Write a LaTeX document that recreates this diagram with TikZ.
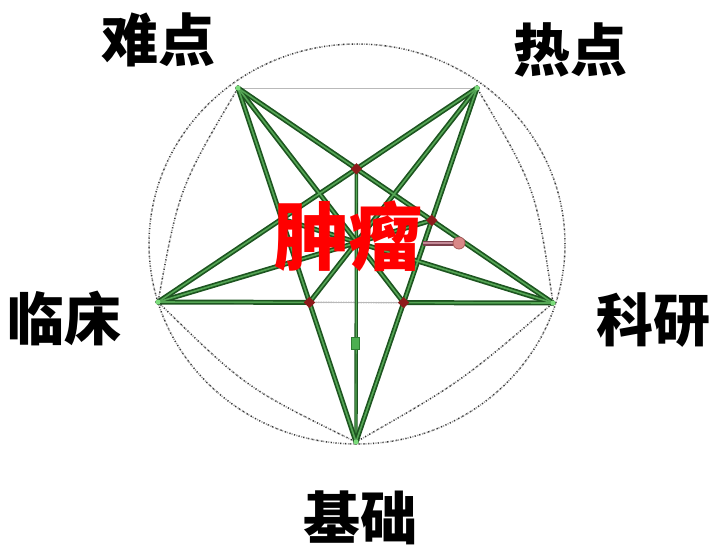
\documentclass[tikz,border=0pt]{standalone}
\usepackage{fontspec}
\newfontfamily\cjk{Noto Sans CJK SC}
\definecolor{gdark}{HTML}{1D5520}
\definecolor{glight}{HTML}{55A655}
\definecolor{gdot}{HTML}{A0A0A0}
\definecolor{mred}{HTML}{8E1A1A}
\definecolor{vpt}{HTML}{7CDC7C}
\definecolor{barout}{HTML}{7B3F4C}
\definecolor{barin}{HTML}{C48A98}
\definecolor{hcfill}{HTML}{D98888}
\definecolor{hcdraw}{HTML}{A85A5A}
\definecolor{hsfill}{HTML}{4CAF50}
\definecolor{hsdraw}{HTML}{2E7D32}
\tikzset{
  star/.style={draw=gdark,line width=5pt,line cap=round},
  starin/.style={draw=glight,line width=1.6pt,line cap=round},
  thingray/.style={draw=gray!55,line width=0.9pt},
  dotline/.style={draw=gdot,line width=1.5pt,dash pattern=on 1.2pt off 1.3pt},
  speck/.style={draw=black!80,line width=1.4pt,dash pattern=on 1pt off 3.7pt},
  lbl/.style={font=\cjk\bfseries\fontsize{57}{57}\selectfont,text=black,inner sep=0pt},
  inner/.style={fill=mred,draw=none,minimum size=8pt,inner sep=0pt,rectangle,rotate=45},
}
\begin{document}
\begin{tikzpicture}[x=1pt,y=-1pt]
\useasboundingbox[fill=white] (0,0) rectangle (710,547);
% outer vertices
\coordinate (A) at (238,88);
\coordinate (B) at (477,88);
\coordinate (C) at (553,303);
\coordinate (D) at (356,442);
\coordinate (E) at (158,302);
% inner intersection points
\coordinate (P1) at (intersection of A--C and B--E);
\coordinate (P2) at (intersection of A--C and B--D);
\coordinate (P3) at (intersection of B--D and E--C);
\coordinate (P4) at (intersection of A--D and E--C);
\coordinate (P5) at (intersection of A--D and B--E);
% dotted circle and inner arcs
\foreach \s in {dotline,speck}{
  \draw[\s] (357,244) ellipse [x radius=208pt, y radius=200pt];
  \draw[\s] (B) .. controls (536,188) .. (C);
  \draw[\s] (C) .. controls (461,382) .. (D);
  \draw[\s] (D) .. controls (246,388) .. (E);
  \draw[\s] (E) .. controls (179,188) .. (A);
}
\draw[dotline,draw=gdot!70] (P1) -- (P2) -- (P3) -- (P4) -- (P5) -- cycle;
% thin gray lines
\draw[thingray] (A) -- (B);
\draw[thingray] (P4) -- (P3);
% vertical line
\draw[draw=gdark,line width=3.4pt] (D) -- (P1);
\draw[draw=glight,line width=1.2pt] (D) -- (P1);
% star lines
\foreach \u/\v in {A/C,A/D,B/E,B/D,E/P4,P3/C,A/P3,B/P4,E/P2,C/P5}{
  \draw[star] (\u) -- (\v);
}
\foreach \u/\v in {A/C,A/D,B/E,B/D,E/P4,P3/C,A/P3,B/P4,E/P2,C/P5}{
  \draw[starin] (\u) -- (\v);
}
% vertex markers
\foreach \p in {A,B,C,D,E}{\fill[vpt] (\p) circle (2.5pt);}
\foreach \p in {P1,P2,P3,P4}{\node[inner] at (\p) {};}
% handle artifacts
\coordinate (h1) at (423,243);
\coordinate (h2) at (459,243);
\draw[draw=barout,line width=5pt] (h1) -- (h2);
\draw[draw=barin,line width=1.4pt] (h1) -- (h2);
\node[circle,fill=hcfill,draw=hcdraw,line width=0.8pt,minimum size=12pt,inner sep=0pt] (hc) at (h2) {};
\node[rectangle,fill=hsfill,draw=hsdraw,line width=0.6pt,minimum width=8pt,minimum height=12pt,inner sep=0pt] (hs) at (355,343) {};
% labels
\node[lbl] (nd) at (158,40) {难点};
\node[lbl] (rd) at (570,50) {热点};
\node[lbl] (lc) at (65,318) {临床};
\node[lbl] (ky) at (653,320) {科研};
\node[lbl] (jc) at (360,518) {基础};
\node[font=\cjk\bfseries\fontsize{74}{74}\selectfont,text=red,inner sep=0pt] (zl) at (348,236) {肿瘤};
\end{tikzpicture}
\end{document}
